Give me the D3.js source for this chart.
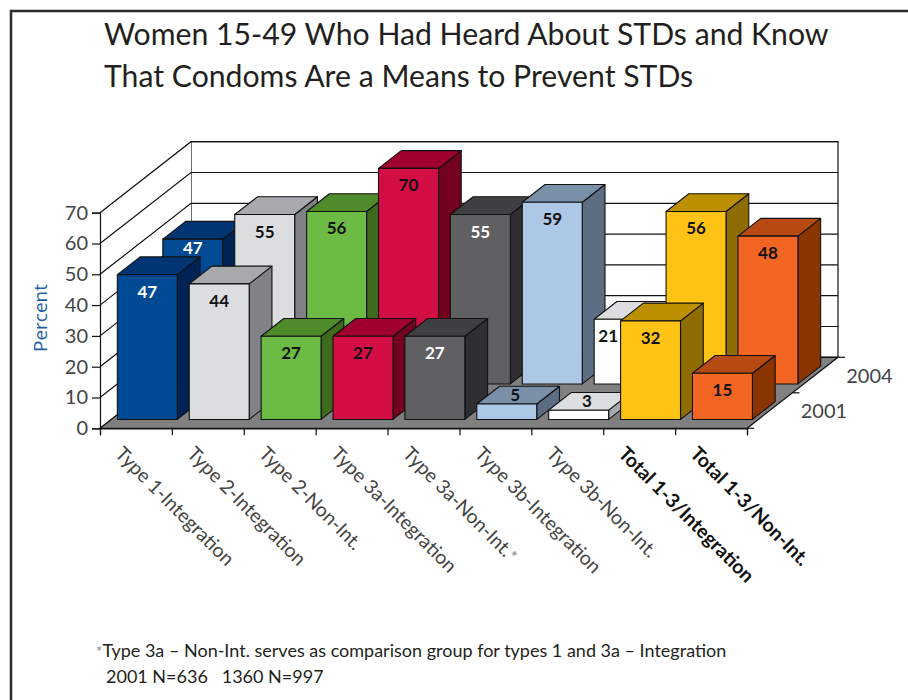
<!DOCTYPE html>
<html>
<head>
<meta charset="utf-8">
<script src="https://cdn.jsdelivr.net/npm/d3@7"></script>
<style>
  body { margin: 0; background: #fff; }
  svg { display: block; }
</style>
</head>
<body>
<script>
// ---- data ----
const categories = [
  "Type 1-Integration",
  "Type 2-Integration",
  "Type 2-Non-Int.",
  "Type 3a-Integration",
  "Type 3a-Non-Int.",
  "Type 3b-Integration",
  "Type 3b-Non-Int.",
  "Total 1-3/Integration",
  "Total 1-3/Non-Int."
];
const years = ["2001", "2004"];
const values2001 = [47, 44, 27, 27, 27, 5, 3, 32, 15];
const values2004 = [47, 55, 56, 70, 55, 59, 21, 56, 48];
const yTicks = [0, 10, 20, 30, 40, 50, 60, 70];
const starred = ["Type 3a-Non-Int."];
const totals = ["Total 1-3/Integration", "Total 1-3/Non-Int."];

// ---- palette (front / top / side / label) per category ----
const frontColors = ["#004a93", "#dcdddf", "#6bbb45", "#d20e44", "#606062", "#adc8e6", "#ffffff", "#fec314", "#f26522"];
const topColors   = ["#003472", "#a7a9ac", "#4f8a2b", "#a0002d", "#404042", "#7a8fa8", "#dcdddf", "#bd9004", "#b74a12"];
const sideColors  = ["#002356", "#808285", "#3f6a1e", "#72001f", "#2f2f31", "#5c6c82", "#a7a9ac", "#8f6c00", "#8a3400"];
const labelColors = ["#ffffff", "#111111", "#111111", "#111111", "#ffffff", "#111111", "#111111", "#111111", "#111111"];

// back-row value labels that are nudged so the front bars do not hide them
const backLabelNudge = {
  "Type 1-Integration": [0, -8],
  "Type 3b-Non-Int.": [-16, 0]
};

const W = 908, H = 700;
const FONT = "Lato, 'Open Sans', sans-serif";
const svg = d3.select("body").append("svg").attr("width", W).attr("height", H);

// frame
svg.append("path")
  .attr("d", `M11,${H + 5} V11 H${W + 5}`)
  .attr("fill", "none").attr("stroke", "#2b2b2b").attr("stroke-width", 2.5);

// title
const title = svg.append("text")
  .attr("font-family", FONT)
  .attr("font-size", 30.2).attr("fill", "#231f20");
title.append("tspan").attr("x", 104).attr("y", 45).text("Women 15-49 Who Had Heard About STDs and Know");
title.append("tspan").attr("x", 104).attr("y", 87).text("That Condoms Are a Means to Prevent STDs");

// ---- scales ----
const x0 = 100, x1 = 747;
const depth = { dx: 91, dy: -71 };
const x = d3.scaleBand().domain(categories).range([x0, x1]).padding(0);
const y = d3.scaleLinear().domain([0, 70]).range([428.3, 212.7]);
const z = d3.scaleBand().domain(years).range([0, 1]).paddingInner(0.5).paddingOuter(0.25);
const barW = x.bandwidth() * 0.834;

// projected point: front x, value, depth fraction
const P = (px, v, d) => [px + d * depth.dx, y(v) + d * depth.dy];
const poly = pts => "M" + pts.map(p => p.join(",")).join("L") + "Z";

const g = svg.append("g");

// back wall and side wall
g.append("path")
  .attr("d", poly([P(x0, 0, 1), P(x1, 0, 1), P(x1, 70, 1), P(x0, 70, 1)]))
  .attr("fill", "#fff").attr("stroke", "#111").attr("stroke-width", 1.2);
g.append("path")
  .attr("d", poly([P(x0, 0, 0), P(x0, 0, 1), P(x0, 70, 1), P(x0, 70, 0)]))
  .attr("fill", "#fff").attr("stroke", "none");

yTicks.forEach(v => {
  g.append("path")
    .attr("d", "M" + P(x0, v, 0).join(",") + "L" + P(x0, v, 1).join(",") + "L" + P(x1, v, 1).join(","))
    .attr("fill", "none").attr("stroke", "#111").attr("stroke-width", 1.2);
});

// floor
g.append("path")
  .attr("d", poly([P(x0, 0, 0), P(x1, 0, 0), P(x1, 0, 1), P(x0, 0, 1)]))
  .attr("fill", "#808080").attr("stroke", "#111").attr("stroke-width", 1.2);

// ---- bars: back row first, left to right ----
const series = { "2001": values2001, "2004": values2004 };
[...years].reverse().forEach(yr => {
  const d0 = z(yr), d1 = z(yr) + z.bandwidth();
  categories.forEach((c, i) => {
    const v = series[yr][i];
    const xa = x(c) + (x.bandwidth() - barW) / 2, xb = xa + barW;
    const bar = g.append("g");
    // side
    bar.append("path")
      .attr("d", poly([P(xb, v, d0), P(xb, 0, d0), P(xb, 0, d1), P(xb, v, d1)]))
      .attr("fill", sideColors[i]).attr("stroke", "#111").attr("stroke-width", 1.1).attr("stroke-linejoin", "round");
    // top
    bar.append("path")
      .attr("d", poly([P(xa, v, d0), P(xb, v, d0), P(xb, v, d1), P(xa, v, d1)]))
      .attr("fill", topColors[i]).attr("stroke", "#111").attr("stroke-width", 1.1).attr("stroke-linejoin", "round");
    // front
    bar.append("path")
      .attr("d", poly([P(xa, 0, d0), P(xb, 0, d0), P(xb, v, d0), P(xa, v, d0)]))
      .attr("fill", frontColors[i]).attr("stroke", "#111").attr("stroke-width", 1.1).attr("stroke-linejoin", "round");
    // value label
    const small = v < 10;
    const lp = small
      ? P((xa + xb) / 2 - 3, v, (d0 + d1) / 2)
      : P((xa + xb) / 2, v, d0);
    const nudge = (yr === "2004" && backLabelNudge[c]) || [0, 0];
    bar.append("text")
      .attr("x", lp[0] + nudge[0])
      .attr("y", (small ? lp[1] + 6 : lp[1] + 23) + nudge[1])
      .attr("text-anchor", "middle")
      .attr("font-family", FONT)
      .attr("font-weight", 700).attr("font-size", 17)
      .attr("fill", small ? "#111" : labelColors[i])
      .text(v);
  });
});

// ---- value axis (front) ----
const yAxis = svg.append("g")
  .attr("transform", `translate(${x0},0)`)
  .call(d3.axisLeft(y).tickValues(yTicks).tickSize(8).tickPadding(4).tickFormat(d3.format("d")));
yAxis.select(".domain").attr("stroke", "#111").attr("stroke-width", 1.2);
yAxis.selectAll(".tick line").attr("stroke", "#111").attr("stroke-width", 1.2);
yAxis.selectAll(".tick text")
  .attr("font-family", FONT)
  .attr("font-size", 20).attr("fill", "#444");

svg.append("text")
  .attr("transform", "translate(47,318) rotate(-90)")
  .attr("text-anchor", "middle")
  .attr("font-family", "'Open Sans', Lato, sans-serif")
  .attr("font-size", 19).attr("fill", "#1f5fa8")
  .text("Percent");

// ---- category axis ----
const xb = d3.scaleLinear().domain([0, categories.length]).range([x0, x1]);
const xAxis = svg.append("g")
  .attr("transform", `translate(0,${y(0)})`)
  .call(d3.axisBottom(xb).tickValues(d3.range(categories.length + 1)).tickSize(7).tickFormat(""));
xAxis.select(".domain").attr("stroke", "#111").attr("stroke-width", 1.2);
xAxis.selectAll(".tick line").attr("stroke", "#111").attr("stroke-width", 1.2);

const catLabels = svg.append("g")
  .attr("font-family", FONT)
  .attr("font-size", 19.5);
categories.forEach(c => {
  const cx = x(c) + x.bandwidth() / 2;
  const isTotal = totals.includes(c);
  const t = catLabels.append("text")
    .attr("transform", `translate(${cx - 12},445) rotate(45)`)
    .attr("dy", "0.72em")
    .attr("fill", isTotal ? "#111" : "#444")
    .attr("font-weight", isTotal ? 700 : 400)
    .text(c);
  if (starred.includes(c)) {
    t.append("tspan").attr("fill", "#888").attr("font-size", 17).text("*");
  }
});

// ---- depth (year) axis ----
[0, 0.5, 1].forEach(d => {
  const p = P(x1, 0, d);
  svg.append("line")
    .attr("x1", p[0]).attr("y1", p[1]).attr("x2", p[0] + 7).attr("y2", p[1])
    .attr("stroke", "#111").attr("stroke-width", 1.2);
});
years.forEach(yr => {
  const p = P(x1, 0, z(yr) + z.bandwidth() / 2);
  svg.append("text")
    .attr("x", p[0] + 31).attr("y", p[1] + 7.5)
    .attr("font-family", FONT)
    .attr("font-size", 20).attr("fill", "#444")
    .text(yr);
});

// ---- footnote ----
const note = svg.append("g")
  .attr("font-family", FONT)
  .attr("font-size", 18).attr("fill", "#231f20");
const n1 = note.append("text").attr("x", 96).attr("y", 657);
n1.append("tspan").attr("fill", "#888").attr("font-size", 15).text("*");
n1.append("tspan").text("Type 3a – Non-Int. serves as comparison group for types 1 and 3a – Integration");
note.append("text").attr("x", 106).attr("y", 683).attr("xml:space", "preserve")
  .text("2001 N=636   1360 N=997");
</script>
</body>
</html>
